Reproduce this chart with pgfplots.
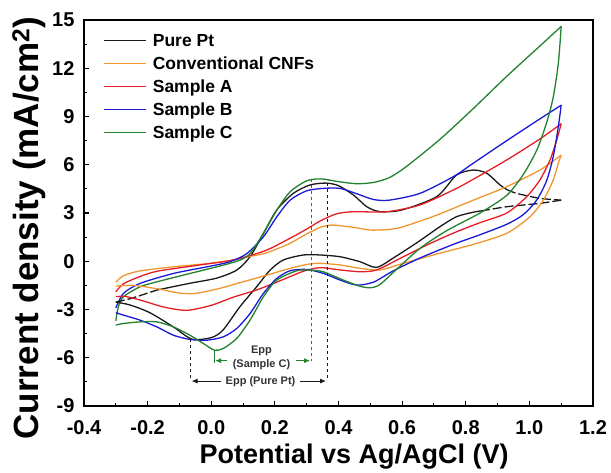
\documentclass[border=0pt]{standalone}
\usepackage{pgfplots}
\pgfplotsset{compat=1.18}
\usepackage{fontspec}
\setmainfont{Liberation Sans}
\usetikzlibrary{arrows.meta}
\definecolor{cOrange}{RGB}{240,150,45}
\definecolor{cRed}{RGB}{228,30,38}
\definecolor{cBlue}{RGB}{25,25,215}
\definecolor{cGreen}{RGB}{34,130,45}
\definecolor{cBlack}{RGB}{25,25,25}
\pgfplotsset{
  cvline/.style={line width=1.3pt, smooth, tension=0.45, no markers},
  brk/.style={dash pattern=on 9pt off 3pt},
  legend image code/.code={\draw[#1, line width=1.3pt, solid] (0pt,0.35em) -- (42pt,0.35em); \path (48pt,0pt);},
}
\begin{document}
\begin{tikzpicture}
\useasboundingbox (-84pt,-67pt) rectangle (527pt,406pt);
\begin{axis}[
  at={(0pt,0pt)}, anchor=south west,
  scale only axis, width=509pt, height=386pt,
  xmin=-0.4, xmax=1.2, ymin=-9, ymax=15,
  xtick={-0.4,-0.2,...,1.21}, ytick={-9,-6,...,15},
  minor x tick num=1, minor y tick num=1,
  tick pos=left, tick align=inside,
  major tick length=5pt, minor tick length=3pt,
  every tick/.style={line width=1.1pt, black},
  axis line style={line width=1.6pt},
  /pgf/number format/assume math mode=true,
  ticklabel style={font=\fontsize{20}{20}\selectfont\bfseries},
  xticklabel style={yshift=-11pt, /pgf/number format/.cd, fixed, fixed zerofill, precision=1},
  yticklabel style={xshift=-6pt, /pgf/number format/.cd, fixed, precision=0},
  xlabel={Potential vs Ag/AgCl (V)},
  ylabel={Current density (mA/cm\textsuperscript{2})},
  xlabel style={at={(axis description cs:0.5305,-0.1477)}, anchor=base, font=\fontsize{27}{27}\selectfont\bfseries},
  ylabel style={at={(axis description cs:-0.108,0.461)}, anchor=center, font=\fontsize{35}{35}\selectfont\bfseries},
  legend style={at={(axis description cs:0.038,0.969)}, anchor=north west, draw=none, fill=none,
    font=\fontsize{17.5}{17.5}\selectfont\bfseries, row sep=0pt, inner sep=0pt,
    nodes={inner sep=0pt, text height=14pt, text depth=9pt}},
  legend cell align=left,
  clip=false,
]
% forward sweeps (legend)
\addplot[cvline, color=cBlack] coordinates {(-0.171,-1.79) (-0.067,-1.37) (0.017,-1.05) (0.08,-0.55) (0.122,0.28) (0.164,1.73) (0.206,3.19) (0.258,4.22) (0.31,4.74) (0.36,4.86) (0.40,4.70) (0.447,4.12) (0.489,3.39) (0.531,3.08) (0.60,3.19) (0.709,4.02) (0.771,5.36) (0.824,5.67) (0.866,5.47) (0.908,4.74) (0.93,4.45)};
\addlegendentry{Pure Pt}
\addplot[cvline, color=cOrange] coordinates {(-0.30,-1.3) (-0.276,-0.9) (-0.224,-0.6) (-0.12,-0.35) (-0.014,-0.15) (0.06,0.05) (0.12,0.3) (0.17,0.5) (0.243,1.07) (0.30,1.7) (0.342,2.1) (0.38,2.25) (0.45,2.1) (0.50,1.94) (0.56,1.98) (0.604,2.15) (0.709,2.87) (0.824,3.8) (0.929,4.64) (1.033,5.67) (1.10,6.6)};
\addlegendentry{Conventional CNFs}
\addplot[cvline, color=cRed] coordinates {(-0.30,-1.9) (-0.276,-1.4) (-0.224,-0.95) (-0.17,-0.62) (-0.05,-0.27) (0.07,0.08) (0.17,0.66) (0.243,1.38) (0.30,2.0) (0.342,2.5) (0.394,2.95) (0.447,3.08) (0.552,3.08) (0.656,3.5) (0.761,4.43) (0.824,5.1) (0.929,6.3) (1.033,7.6) (1.10,8.55)};
\addlegendentry{Sample A}
\addplot[cvline, color=cBlue] coordinates {(-0.30,-2.9) (-0.276,-2.0) (-0.224,-1.38) (-0.119,-0.76) (-0.014,-0.35) (0.059,-0.03) (0.112,0.48) (0.164,1.52) (0.206,2.76) (0.248,3.8) (0.30,4.38) (0.353,4.53) (0.405,4.53) (0.457,4.2) (0.51,3.84) (0.56,3.8) (0.656,4.22) (0.761,5.26) (0.824,6.1) (0.929,7.5) (1.033,8.85) (1.10,9.7)};
\addlegendentry{Sample B}
\addplot[cvline, color=cGreen] coordinates {(-0.30,-3.7) (-0.292,-2.83) (-0.276,-2.21) (-0.224,-1.59) (-0.171,-1.28) (-0.067,-0.76) (0.038,-0.24) (0.09,0.07) (0.122,0.48) (0.164,1.73) (0.206,3.18) (0.248,4.32) (0.30,5.0) (0.345,5.12) (0.40,4.95) (0.457,4.82) (0.51,4.9) (0.56,5.2) (0.614,5.9) (0.72,7.6) (0.824,9.5) (0.929,11.5) (1.034,13.4) (1.10,14.6)};
\addlegendentry{Sample C}
% broken pieces of the Pure Pt forward sweep
\addplot[cvline, color=cBlack, brk, forget plot] coordinates {(-0.30,-2.54) (-0.25,-2.3) (-0.171,-1.79)};
\addplot[cvline, color=cBlack, brk, forget plot] coordinates {(0.93,4.45) (0.96,4.22) (1.033,3.91) (1.10,3.80)};
% reverse sweeps
\addplot[cvline, color=cBlack, brk, forget plot] coordinates {(1.10,3.80) (1.033,3.6) (0.929,3.39) (0.855,3.15)};
\addplot[cvline, color=cBlack, forget plot] coordinates {(0.855,3.15) (0.824,3.05) (0.771,2.77) (0.719,2.15) (0.65,1.2) (0.58,0.3) (0.52,-0.38) (0.468,-0.03) (0.405,0.28) (0.342,0.39) (0.29,0.39) (0.227,0.08) (0.185,-0.55) (0.143,-1.58) (0.09,-2.83) (0.037,-4.28) (0.0,-4.75) (-0.061,-4.84) (-0.12,-4.07) (-0.193,-3.2) (-0.255,-2.72) (-0.30,-2.54)};
\addplot[cvline, color=cOrange, forget plot] coordinates {(1.10,6.6) (1.091,6.1) (1.075,5.05) (1.044,3.8) (1.002,2.77) (0.929,1.74) (0.824,1.05) (0.709,0.45) (0.604,-0.13) (0.53,-0.54) (0.468,-0.44) (0.405,-0.23) (0.342,-0.13) (0.30,-0.2) (0.243,-0.47) (0.17,-0.89) (0.096,-1.3) (0.022,-1.71) (-0.05,-2.0) (-0.10,-1.98) (-0.17,-1.71) (-0.247,-1.5) (-0.30,-1.55)};
\addplot[cvline, color=cRed, forget plot] coordinates {(1.10,8.55) (1.086,7.54) (1.065,6.3) (1.033,5.05) (0.991,4.0) (0.929,3.0) (0.845,2.4) (0.761,1.75) (0.677,1.0) (0.604,0.28) (0.52,-0.54) (0.468,-0.65) (0.405,-0.54) (0.342,-0.4) (0.29,-0.62) (0.218,-1.2) (0.145,-1.77) (0.07,-2.23) (0.0,-2.74) (-0.076,-3.05) (-0.149,-2.85) (-0.22,-2.43) (-0.27,-2.19) (-0.30,-2.2)};
\addplot[cvline, color=cBlue, forget plot] coordinates {(1.10,9.7) (1.091,8.37) (1.075,6.5) (1.054,5.0) (1.023,3.8) (0.981,2.9) (0.929,2.3) (0.845,1.65) (0.761,1.05) (0.656,0.2) (0.572,-0.6) (0.51,-1.3) (0.457,-1.48) (0.405,-1.17) (0.353,-0.76) (0.30,-0.51) (0.248,-0.59) (0.206,-1.07) (0.164,-2.0) (0.122,-3.25) (0.08,-4.18) (0.038,-4.7) (-0.014,-4.91) (-0.067,-4.86) (-0.119,-4.6) (-0.171,-4.08) (-0.224,-3.66) (-0.276,-3.35) (-0.30,-3.2)};
\addplot[cvline, color=cGreen, forget plot] coordinates {(1.10,14.6) (1.091,12.3) (1.075,10.2) (1.054,8.6) (1.023,6.9) (0.981,5.4) (0.929,4.1) (0.845,3.0) (0.74,1.9) (0.656,0.8) (0.583,-0.5) (0.53,-1.45) (0.50,-1.65) (0.467,-1.55) (0.415,-1.17) (0.353,-0.66) (0.31,-0.55) (0.269,-0.59) (0.206,-1.17) (0.164,-2.21) (0.122,-3.66) (0.08,-4.8) (0.038,-5.42) (0.01,-5.53) (-0.025,-5.11) (-0.067,-4.6) (-0.119,-4.08) (-0.171,-3.77) (-0.224,-3.77) (-0.276,-3.87) (-0.30,-3.97)};
% annotations
\draw[cBlack, dashed, line width=1pt] (axis cs:0.364,4.86) -- (axis cs:0.364,-7.45);
\draw[cBlack, dashed, line width=1pt] (axis cs:-0.065,-4.86) -- (axis cs:-0.065,-7.45);
\draw[cGreen, dashed, line width=1pt] (axis cs:0.314,5.12) -- (axis cs:0.314,-6.2);
\draw[cGreen, line width=1pt] (axis cs:0.009,-5.5) -- (axis cs:0.009,-6.3);
\draw[cBlack, line width=1pt, -{Latex[length=6pt,width=5pt]}] (axis cs:0.03,-7.45) -- (axis cs:-0.062,-7.45);
\draw[cBlack, line width=1pt, -{Latex[length=6pt,width=5pt]}] (axis cs:0.28,-7.45) -- (axis cs:0.361,-7.45);
\draw[cGreen, line width=1pt, -{Latex[length=6pt,width=5pt]}] (axis cs:0.05,-6.18) -- (axis cs:0.012,-6.18);
\draw[cGreen, line width=1pt, -{Latex[length=6pt,width=5pt]}] (axis cs:0.265,-6.18) -- (axis cs:0.311,-6.18);
\node[font=\fontsize{11}{11}\selectfont\bfseries, text=black!80] at (axis cs:0.155,-7.5) {Epp (Pure Pt)};
\node[font=\fontsize{11}{11}\selectfont\bfseries, text=black!80] at (axis cs:0.158,-5.58) {Epp};
\node[font=\fontsize{11}{11}\selectfont\bfseries, text=black!80] at (axis cs:0.158,-6.45) {(Sample C)};
\end{axis}
\end{tikzpicture}
\end{document}
